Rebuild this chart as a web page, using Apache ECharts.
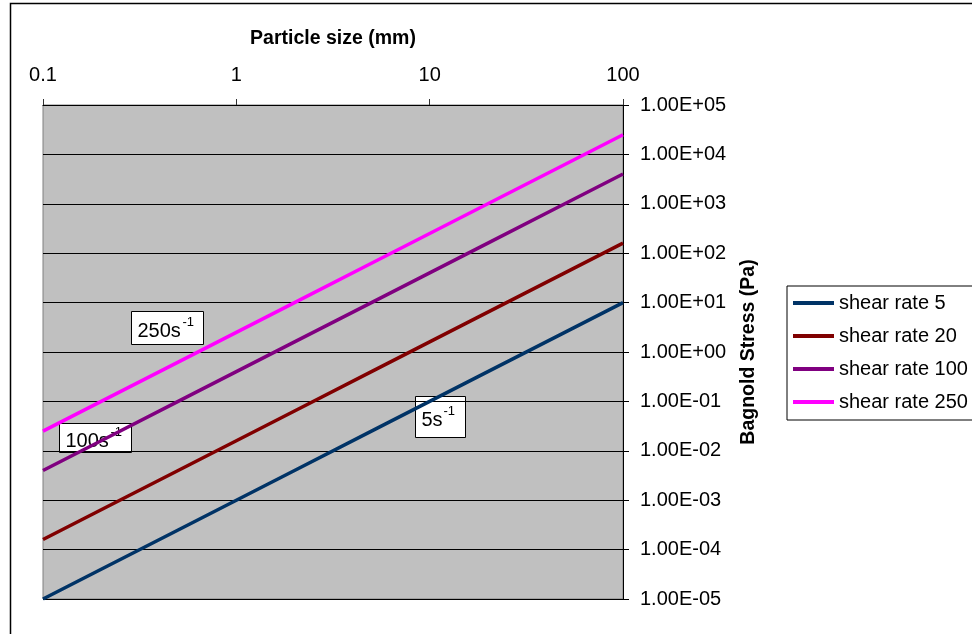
<!DOCTYPE html>
<html>
<head>
<meta charset="utf-8">
<script src="https://cdn.jsdelivr.net/npm/echarts@6/dist/echarts.min.js"></script>
<style>
  html, body { margin: 0; padding: 0; background: #fff; }
  #chart { width: 972px; height: 634px; }
</style>
</head>
<body>
<div id="chart"></div>
<script>
// particle sizes (mm)
var sizes = [0.1, 0.2, 0.5, 1, 2, 5, 10, 20, 50, 100];

// Bagnold stress (Pa)
var rate5   = [1.0e-5, 4.0e-5, 2.5e-4, 1.0e-3, 4.0e-3, 2.5e-2, 0.1, 0.4, 2.5, 10];
var rate20  = [1.6e-4, 6.4e-4, 4.0e-3, 1.6e-2, 6.4e-2, 0.4, 1.6, 6.4, 40, 160];
var rate100 = [4.0e-3, 1.6e-2, 0.1, 0.4, 1.6, 10, 40, 160, 1000, 4000];
var rate250 = [2.5e-2, 0.1, 0.625, 2.5, 10, 62.5, 250, 1000, 6250, 25000];

var seriesNames = ['shear rate 5', 'shear rate 20', 'shear rate 100', 'shear rate 250'];
var seriesColors = ['#003366', '#800000', '#800080', '#FF00FF'];
var seriesValues = [rate5, rate20, rate100, rate250];

function pairs(ys) {
  var out = [];
  for (var i = 0; i < sizes.length; i++) {
    out.push([sizes[i], ys[i]]);
  }
  return out;
}

function sciLabel(v) {
  var parts = v.toExponential(2).split('e');
  var e = parseInt(parts[1], 10);
  var a = Math.abs(e);
  return parts[0] + 'E' + (e < 0 ? '-' : '+') + (a < 10 ? '0' : '') + a;
}

// little text box with a superscript "-1"
function rateBox(x, y, w, h, main, mainW) {
  return {
    type: 'group',
    left: x,
    top: y,
    children: [
      {
        type: 'rect',
        shape: { x: 0, y: 0, width: w, height: h },
        style: { fill: '#fff', stroke: '#000', lineWidth: 1 }
      },
      {
        type: 'text',
        style: {
          x: 6, y: h / 2 + 3, text: main,
          font: '20px "Liberation Sans", Arial, sans-serif',
          fill: '#000', verticalAlign: 'middle'
        }
      },
      {
        type: 'text',
        style: {
          x: 7 + mainW, y: h / 2 - 6, text: '-1',
          font: '13px "Liberation Sans", Arial, sans-serif',
          fill: '#000', verticalAlign: 'middle'
        }
      }
    ]
  };
}

var myChart = echarts.init(document.getElementById('chart'));

var series = [];
for (var i = 0; i < seriesNames.length; i++) {
  series.push({
    name: seriesNames[i],
    type: 'line',
    data: pairs(seriesValues[i]),
    showSymbol: false,
    symbol: 'none',
    lineStyle: { color: seriesColors[i], width: 3.5 },
    itemStyle: { color: seriesColors[i] }
  });
}

var option = {
  backgroundColor: '#fff',
  animation: false,
  textStyle: { fontFamily: '"Liberation Sans", Arial, sans-serif' },
  grid: {
    left: 43, right: 349, top: 105, bottom: 35,
    show: true,
    backgroundColor: '#C0C0C0',
    borderColor: '#808080',
    borderWidth: 1
  },
  legend: {
    orient: 'vertical',
    left: 787,
    top: 286,
    data: seriesNames,
    icon: 'rect',
    itemWidth: 41,
    itemHeight: 4,
    itemGap: 13,
    padding: [7, 50, 8, 6],
    borderColor: '#000',
    borderWidth: 1,
    backgroundColor: '#fff',
    textStyle: { fontSize: 20, color: '#000' }
  },
  xAxis: {
    type: 'log',
    logBase: 10,
    position: 'top',
    min: 0.1,
    max: 100,
    splitNumber: 3,
    name: 'Particle size (mm)',
    nameLocation: 'middle',
    nameGap: 56,
    nameTextStyle: { fontSize: 19.5, fontWeight: 'bold', color: '#000' },
    axisLine: { show: true, lineStyle: { color: '#000', width: 1 } },
    axisTick: { show: true, length: 6, lineStyle: { color: '#333' } },
    minorTick: { show: false },
    splitLine: { show: false },
    axisLabel: {
      margin: 20,
      fontSize: 20,
      color: '#000',
      formatter: function (v) { return String(+(+v).toPrecision(3)); }
    }
  },
  yAxis: {
    type: 'log',
    logBase: 10,
    position: 'right',
    min: 1e-5,
    max: 1e5,
    interval: 1,
    splitNumber: 10,
    name: 'Bagnold Stress (Pa)',
    nameLocation: 'middle',
    nameRotate: 90,
    nameGap: 116,
    nameTextStyle: { fontSize: 19.5, fontWeight: 'bold', color: '#000' },
    axisLine: { show: true, lineStyle: { color: '#000', width: 1 } },
    axisTick: { show: true, length: 6, lineStyle: { color: '#000' } },
    minorTick: { show: false },
    splitLine: { show: true, lineStyle: { color: '#000', width: 1 } },
    axisLabel: {
      margin: 17,
      fontSize: 20,
      color: '#000',
      formatter: sciLabel
    }
  },
  graphic: [
    {
      type: 'rect',
      left: 8,
      top: 1,
      shape: { x: 0, y: 0, width: 1000, height: 700 },
      style: { fill: 'none', stroke: '#000', lineWidth: 1.5 },
      silent: true
    },
    rateBox(131, 311, 72, 33, '250s', 44),
    rateBox(59, 423, 72, 29, '100s', 44),
    rateBox(415, 396, 50, 41, '5s', 21)
  ],
  series: series
};

myChart.setOption(option);
</script>
</body>
</html>
